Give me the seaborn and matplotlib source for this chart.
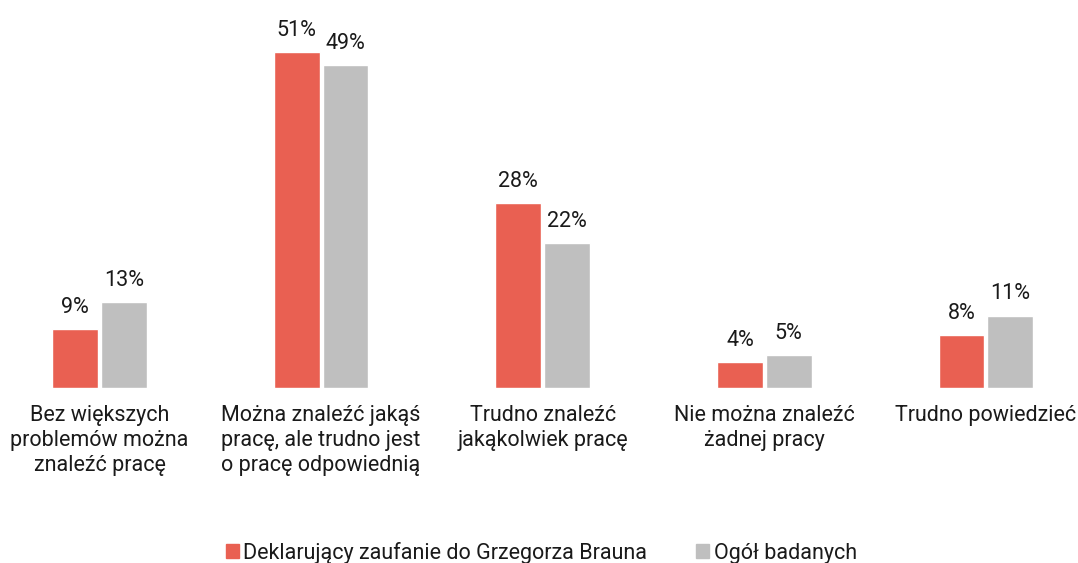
import pandas as pd
import seaborn as sns
import matplotlib.pyplot as plt

# Data
categories = [
    'Bez większych\nproblemów można\nznaleźć pracę',
    'Można znaleźć jakąś\npracę, ale trudno jest\no pracę odpowiednią',
    'Trudno znaleźć\njakąkolwiek pracę',
    'Nie można znaleźć\nżadnej pracy',
    'Trudno powiedzieć',
]
series_names = ['Deklarujący zaufanie do Grzegorza Brauna', 'Ogół badanych']
braun = [9, 51, 28, 4, 8]
ogol = [13, 49, 22, 5, 11]

colors = ['#E96052', '#BFBFBF']

df = pd.DataFrame({
    'kategoria': categories * 2,
    'grupa': [series_names[0]] * len(categories) + [series_names[1]] * len(categories),
    'wartosc': braun + ogol,
})

sns.set_theme(style='white')
plt.rcParams['font.family'] = ['Roboto', 'DejaVu Sans']

fs = 15.5

fig = plt.figure(figsize=(10.78, 5.63), dpi=100)
# axes placed so that bars' baseline sits at y=388px
ax = fig.add_axes([0, 1 - 388 / 563, 1, (388 - 20) / 563])

sns.barplot(data=df, x='kategoria', y='wartosc', hue='grupa',
            palette=colors, saturation=1, width=0.44, gap=0.06, ax=ax, legend=False)

for cont in ax.containers:
    ax.bar_label(cont, labels=[f'{v:.0f}%' for v in cont.datavalues],
                 padding=8, fontsize=fs, color='#1a1a1a')

ax.set_xlim(-99.5 / 221.6, (1078 - 99.5) / 221.6)
ax.set_ylim(0, (388 - 20) / 6.59)
ax.set_xlabel('')
ax.set_ylabel('')
ax.set_yticks([])
ax.tick_params(axis='x', length=0, pad=12, labelsize=fs, labelcolor='#1a1a1a')
for lab in ax.get_xticklabels():
    lab.set_linespacing(1.27)
    lab.set_verticalalignment('top')
sns.despine(ax=ax, left=True, bottom=True, top=True, right=True)

handles = [plt.Rectangle((0, 0), 1, 1, color=c) for c in colors]
fig.legend(handles, series_names, loc='lower center', bbox_to_anchor=(0.502, -0.036),
           ncol=2, frameon=False, fontsize=fs, handlelength=0.6, handleheight=0.6,
           handletextpad=0.2, columnspacing=2.3, labelcolor='#1a1a1a')

fig.savefig('out.png', dpi=100)
